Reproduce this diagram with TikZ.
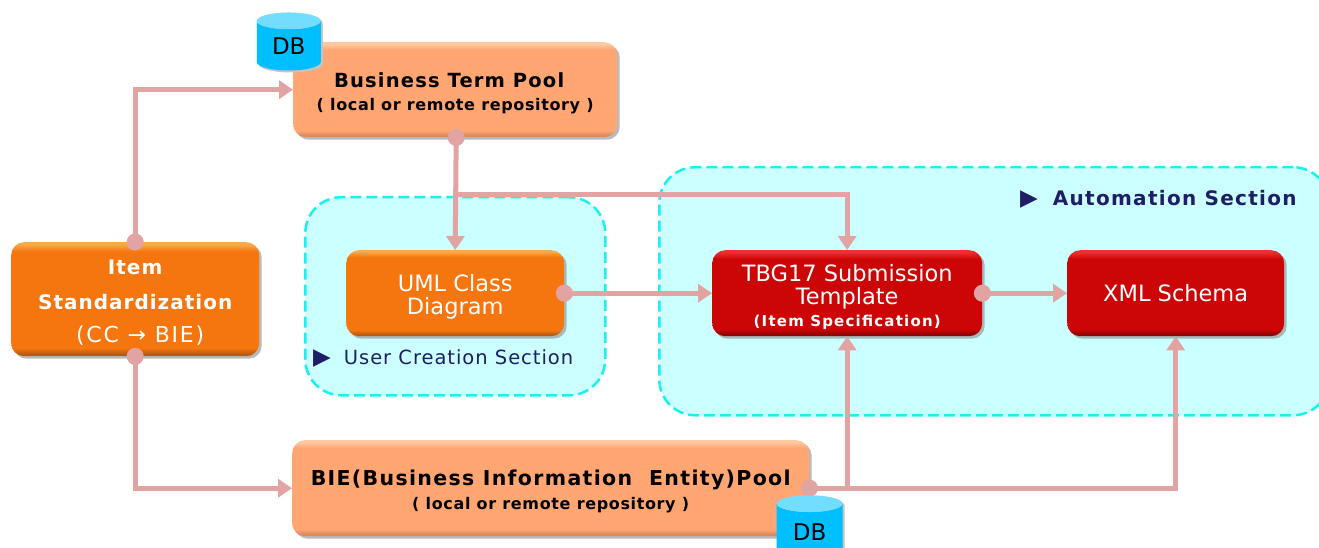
\documentclass[tikz,border=0pt]{standalone}
\usepackage{fontspec}
\setmainfont{DejaVu Sans}
\usetikzlibrary{arrows.meta,shapes.geometric,shadows,calc}
\definecolor{link}{HTML}{E2A3A3}
\definecolor{secfill}{HTML}{CCFFFF}
\definecolor{secline}{HTML}{19F0F0}
\definecolor{navy}{HTML}{1E1E66}
\definecolor{dbbody}{HTML}{00BFFF}
\definecolor{dbtop}{HTML}{73DDFF}
\definecolor{dbshade}{HTML}{C4C4C4}
\definecolor{peachm}{HTML}{FFA673}\definecolor{peachd}{HTML}{D98A5E}\definecolor{peachl}{HTML}{FFC9A0}
\definecolor{orngm}{HTML}{F5760F}\definecolor{orngd}{HTML}{B85A10}\definecolor{orngl}{HTML}{FBA848}
\definecolor{redm}{HTML}{CC0606}\definecolor{redd}{HTML}{8E0505}\definecolor{redl}{HTML}{F03030}
\pgfdeclareverticalshading{peachS}{100bp}{color(0bp)=(peachd); color(26bp)=(peachd); color(28.5bp)=(peachm); color(71bp)=(peachm); color(74bp)=(peachl); color(100bp)=(peachl)}
\pgfdeclareverticalshading{orngS}{100bp}{color(0bp)=(orngd); color(26bp)=(orngd); color(28.5bp)=(orngm); color(71bp)=(orngm); color(74bp)=(orngl); color(100bp)=(orngl)}
\pgfdeclareverticalshading{redS}{100bp}{color(0bp)=(redd); color(26bp)=(redd); color(29bp)=(redm); color(70bp)=(redm); color(74bp)=(redl); color(100bp)=(redl)}
\tikzset{
  x=1pt,y=1pt,
  box/.style={rounded corners=13pt,inner sep=0pt,align=center,anchor=north west,
    drop shadow={shadow xshift=2.5pt,shadow yshift=-2.5pt,fill=black!45,opacity=.6}},
  peachbox/.style={box,shading=peachS,text=black},
  orngbox/.style={box,shading=orngS,text=white},
  redbox/.style={box,shading=redS,text=white},
  section/.style={rounded corners=36pt,fill=secfill,draw=secline,line width=2.5pt,dash pattern=on 11pt off 5pt,anchor=north west,inner sep=0pt},
  seclabel/.style={text=navy,anchor=west,inner sep=0pt},
  linkline/.style={draw=link,line width=5pt},
  linkarrow/.style={linkline,-{Triangle[width=18pt,length=14pt]}},
  dotarrow/.style={linkline,{Circle[length=17pt]}-{Triangle[width=18pt,length=14pt]},shorten <=-8.5pt},
  dbshape/.style={cylinder,shape border rotate=90,aspect=.5,inner sep=0pt,anchor=north west,cylinder uses custom fill,font=\fontsize{23}{25}\selectfont},
  dbnode/.style={dbshape,cylinder body fill=dbbody,cylinder end fill=dbtop},
  dbshadow/.style={dbshape,cylinder body fill=dbshade,cylinder end fill=dbshade}
}
\newcommand{\ls}[2]{\fontsize{#1}{#1}\selectfont\addfontfeature{LetterSpace=#2}}
\begin{document}
\begin{tikzpicture}
\useasboundingbox (0,0) rectangle (1319,-548);
\clip (0,0) rectangle (1319,-548);
\fill[white] (0,0) rectangle (1319,-548);
% sections
\node[section,minimum width=300pt,minimum height=198pt] (usersec) at (304,-196) {};
\node[section,minimum width=670pt,minimum height=248pt] (autosec) at (658,-166) {};
\node[seclabel] (userlab) at (313,-359) {{\fontsize{23}{23}\selectfont ▶}\hspace{13pt}{\ls{19.5}{5}User Creation Section}};
\node[seclabel] (autolab) at (1020,-199) {{\fontsize{23}{23}\selectfont ▶}\hspace{15pt}{\bfseries\ls{20}{6.5}Automation Section}};
% boxes
\node[peachbox,minimum width=324pt,minimum height=95pt] (tp) at (293,-42)
  {{\rule{0pt}{22pt}\bfseries\ls{19.5}{6}Business Term Pool\kern12pt}\\[10pt]{\bfseries\ls{16}{4}( local or remote repository )}};
\node[orngbox,minimum width=248pt,minimum height=114pt] (item) at (11,-242)
  {{\rule{0pt}{21pt}\bfseries\ls{20}{5}Item}\\[19pt]{\bfseries\ls{20}{5}Standardization}\\[15pt]{\hspace{10pt}\ls{22}{8}(CC → BIE)}};
\node[orngbox,minimum width=218pt,minimum height=86pt] (uml) at (346,-250)
  {{\rule{0pt}{24pt}\ls{22.5}{0}UML Class}\\[5pt]{\ls{22.5}{0}Diagram}};
\node[redbox,minimum width=270pt,minimum height=86pt] (tbg) at (712,-250)
  {{\rule{0pt}{25pt}\ls{22.5}{0}TBG17 Submission}\\[4pt]{\ls{22.5}{0}Template}\\[5pt]{\bfseries\ls{15}{8}(Item Specification)}};
\node[redbox,minimum width=217pt,minimum height=86pt] (xml) at (1067,-250)
  {\ls{22.5}{0}XML Schema};
\node[peachbox,minimum width=517pt,minimum height=96pt] (bie) at (292,-440)
  {{\rule{0pt}{22pt}\bfseries\ls{20.5}{6.5}BIE(Business Information\ \ Entity)Pool}\\[7pt]{\bfseries\ls{16}{4}( local or remote repository )}};
% junctions
\coordinate (tpj) at ([xshift=1pt]tp.south |- 0,-195);
\coordinate (biej) at (tbg.south |- bie.east);
% connectors
\draw[dotarrow] (item.north) |- (tp.west);
\draw[dotarrow] (item.south) |- (bie.west);
\draw[dotarrow] ([xshift=1pt]tp.south) -- (uml.north);
\draw[linkarrow] (tpj) -| (tbg.north);
\draw[dotarrow] (uml.east) -- (tbg.west);
\draw[dotarrow] (tbg.east) -- (xml.west);
\draw[dotarrow] (bie.east) -| (xml.south);
\draw[linkarrow] (biej) -- (tbg.south);
% databases
\node[dbshadow,minimum width=64pt,minimum height=58pt] (db1s) at (262,-19) {\phantom{DB}};
\node[dbnode,minimum width=64pt,minimum height=58pt] (db1) at (260,-17) {DB};
\node[dbshadow,minimum width=66pt,minimum height=66pt] (db2s) at (780,-503) {\phantom{DB}};
\node[dbnode,minimum width=66pt,minimum height=66pt] (db2) at (778,-501) {DB};
\end{tikzpicture}
\end{document}
